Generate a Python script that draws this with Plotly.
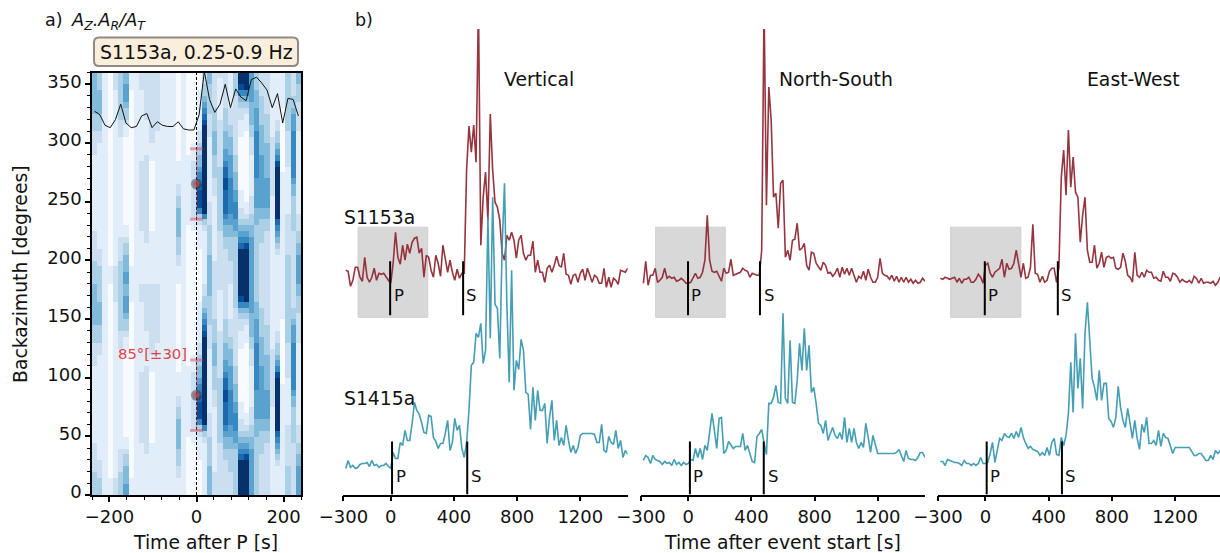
import plotly.graph_objects as go

W, H = 1220, 553
FONT = "DejaVu Sans"
MAROON = "#922b35"
TEAL = "#3b99b1"

TIME = list(range(-285, 1515, 15))

V_S1153 = [224,223,208,214,227,227,217,213,237,217,212,217,226,214,221,220,221,217,214,211,
           231,262,237,230,249,234,250,241,252,256,257,241,246,217,239,237,224,217,239,231,
           218,249,234,222,234,222,214,225,216,221,221,324,368,342,369,332,490,249,297,322,
           274,380,324,292,287,274,241,234,259,254,262,254,236,254,259,241,234,239,239,253,
           222,234,222,222,212,226,229,222,229,238,229,227,241,220,219,210,219,220,212,221,
           225,214,226,219,212,219,217,211,211,226,207,217,207,216,214,210,224,223,222,226]
V_S1415 = [26,34,27,29,26,27,30,31,31,32,28,34,29,30,27,29,29,31,28,26,
           42,36,36,52,49,64,54,54,71,92,84,80,72,62,61,79,78,57,53,46,
           51,51,61,74,44,52,76,64,69,46,37,52,84,129,132,161,157,171,131,144,
           277,156,297,190,186,136,247,311,190,112,224,104,134,125,155,144,102,100,65,107,
           74,104,84,84,91,51,77,94,54,74,49,57,49,69,54,42,49,41,47,59,
           61,61,61,61,61,60,52,52,70,44,42,58,52,50,64,46,54,37,44,40]
NS_S1153 = [211,233,209,219,219,226,212,214,217,226,216,218,216,217,213,214,216,214,211,211,
            212,216,221,216,217,222,234,279,234,223,222,223,217,213,226,221,222,235,219,220,
            221,222,226,224,223,217,221,220,219,219,244,490,289,407,374,297,301,266,311,314,
            237,244,234,254,255,271,244,246,251,229,224,242,241,231,228,224,232,229,221,222,
            218,221,226,217,227,220,226,219,226,219,212,218,216,223,214,225,217,212,212,217,
            236,221,219,218,215,219,213,218,212,217,212,217,212,215,211,214,211,212,216,213]
NS_S1415 = [34,39,37,31,39,35,34,33,30,33,31,32,29,35,30,32,29,32,30,31,
            35,34,46,37,46,35,49,44,62,81,64,46,76,77,41,44,53,49,46,48,
            48,48,61,44,49,40,33,32,58,61,65,51,40,91,91,97,109,92,91,181,
            96,91,154,92,91,114,151,124,166,124,149,102,107,91,71,69,61,74,54,61,
            67,59,56,62,55,77,52,66,52,66,52,46,52,47,71,57,42,59,51,41,
            41,41,41,41,41,41,41,42,45,39,33,44,36,35,35,34,37,42,42,37]
EW_S1153 = [216,215,217,216,215,216,217,212,216,211,215,215,217,212,212,215,220,217,211,229,
            231,221,217,222,224,226,235,217,231,225,226,231,244,232,217,231,216,217,227,270,
            221,220,212,218,212,214,223,226,226,212,227,317,344,299,364,307,337,302,297,252,
            279,297,244,232,232,249,226,231,242,227,237,238,236,237,226,225,227,241,233,219,
            217,212,242,219,217,222,217,224,222,222,216,217,214,213,223,217,217,213,221,220,
            217,212,215,213,212,214,211,218,216,211,216,211,212,212,211,213,209,212,217,217]
EW_S1415 = [33,33,29,35,34,33,32,32,31,29,34,31,31,29,31,29,31,37,31,31,
            32,41,52,32,46,56,54,61,58,57,61,56,63,57,67,57,51,46,48,45,
            44,43,39,42,39,47,39,52,56,40,39,57,49,59,81,132,82,161,106,136,
            86,161,192,151,116,107,94,124,94,111,111,76,73,67,77,108,87,74,67,86,
            69,56,74,56,45,70,62,77,51,51,54,49,64,48,61,57,56,48,41,47,
            47,47,47,47,47,47,43,39,39,41,41,38,34,34,39,35,44,41,44,44]

# picks: [P, S] upper and lower per component
PICKS_S1153 = [[-4, 458], [-2, 454], [-4, 458]]
PICKS_S1415 = [[8, 484], [10, 478], [8, 484]]
GREY_WINDOW = [[-207, 234], [-207, 234], [-220, 224]]
COMPONENTS = ["Vertical", "North-South", "East-West"]

# polarisation panel: one string per 12 s column, one digit per 5 degree row (0-180)
AZ_TIME = list(range(-234, 240, 12))
AZ_BAZ = [2.5 + 5 * r for r in range(72)]
AZ_COLUMNS = [
 "333322 222111 111111 111122 223334 444444",
 "333222 111111 111111 111111 223334 444333",
 "111111 111111 111111 111111 111111 111111",
 "111000 000000 000000 000000 000000 000000",
 "222111 111111 111111 111111 111111 111222",
 "333322 221111 111111 111111 122233 333333",
 "554443 321100 000000 000000 011233 455544",
 "111000 000000 000000 000000 000000 000111",
 "111111 111111 111111 111111 111111 111111",
 "111111 111222 222222 222111 111111 111222",
 "111111 122222 222222 222211 111122 222222",
 "111111 111000 000000 000111 222222 222222",
 "111111 111111 111111 111111 112222 222222",
 "111111 111111 111111 111111 111111 111111",
 "111111 111111 111111 111111 111111 111111",
 "111111 111111 111111 111111 111111 111111",
 "111223 334444 433221 111000 000000 000000",
 "111111 111111 111111 111111 111111 111111",
 "000000 000011 111111 111100 000000 000000",
 "000000 000112 222222 222111 000000 000000",
 "000000 111123 688876 654433 221111 111000",
 "111111 111236 999999 999999 999876 543322",
 "444443 333322 221111 111111 122223 333344",
 "222211 111111 111222 333344 443333 222222",
 "222222 222333 333333 332222 222211 111112",
 "222222 334456 777788 776554 443333 222222",
 "222233 334455 666666 555544 433222 111111",
 "333333 334556 665544 433322 222222 223333",
 "999999 765432 211100 000000 011122 346899",
 "999999 865432 110000 000000 001112 346999",
 "555555 554433 222111 111122 233444 455555",
 "333333 333344 455555 666666 665555 444333",
 "222222 233334 455555 555544 444333 332222",
 "222222 222334 455555 444444 333332 222222",
 "111111 111111 111222 222222 211111 111111",
 "111112 345679 999999 998654 332211 111111",
 "111111 111111 111111 100000 000000 111111",
 "333332 222222 111111 112222 223333 333333",
 "222222 222333 333445 666666 665554 332222",
 "555554 433222 111111 111111 112222 233344",
]
AZ_LINE = [327,324,315,313,320,333,317,313,314,323,325,313,318,315,314,314,318,312,311,311,
           324,361,337,326,333,350,330,346,339,336,354,356,351,345,330,342,317,338,337,323]
BAZ_BEST = [85, 265]
BAZ_ERR = 30
CAP_HALF = 15

cols = [c.replace(" ", "") for c in AZ_COLUMNS]
rows = [[int(col[r]) for col in cols] for r in range(36)]
Z = rows + rows

BLUES = [[0, "#f7fbff"], [0.125, "#deebf7"], [0.25, "#c6dbef"], [0.375, "#9ecae1"],
         [0.5, "#6baed6"], [0.625, "#4292c6"], [0.75, "#2171b5"], [0.875, "#08519c"], [1, "#08306b"]]

fig = go.Figure()
fig.add_trace(go.Heatmap(x=AZ_TIME, y=AZ_BAZ, z=Z, colorscale=BLUES, zmin=0, zmax=9,
                         showscale=False, xaxis="x", yaxis="y"))
fig.add_trace(go.Scatter(x=AZ_TIME, y=AZ_LINE, mode="lines", line=dict(color="#111111", width=1),
                         xaxis="x", yaxis="y"))
fig.add_trace(go.Scatter(x=[0, 0], y=[0, 360], mode="lines",
                         line=dict(color="black", width=1, dash="3px,2px"), xaxis="x", yaxis="y"))
for b in BAZ_BEST:
    fig.add_trace(go.Scatter(x=[0, 0], y=[b - BAZ_ERR, b + BAZ_ERR], mode="lines",
                             line=dict(color="rgba(220,40,60,0.45)", width=1), xaxis="x", yaxis="y"))
    for c in (b - BAZ_ERR, b + BAZ_ERR):
        fig.add_trace(go.Scatter(x=[-CAP_HALF, CAP_HALF], y=[c, c], mode="lines",
                                 line=dict(color="rgba(220,60,80,0.45)", width=3), xaxis="x", yaxis="y"))
    fig.add_trace(go.Scatter(x=[0], y=[b], mode="markers",
                             marker=dict(size=11, color="rgba(40,40,40,0.45)"), xaxis="x", yaxis="y"))
    fig.add_trace(go.Scatter(x=[0], y=[b], mode="markers",
                             marker=dict(size=6, color="rgba(225,60,80,0.6)"), xaxis="x", yaxis="y"))

UPPER = [V_S1153, NS_S1153, EW_S1153]
LOWER = [V_S1415, NS_S1415, EW_S1415]
BAR_LOW = [179, 0]
BAR_HIGH = [233, 53]
for k in range(3):
    xa, ya = f"x{k + 2}", f"y{k + 2}"
    fig.add_trace(go.Scatter(x=TIME, y=UPPER[k], mode="lines", line=dict(color=MAROON, width=1.6),
                             opacity=0.95, xaxis=xa, yaxis=ya))
    fig.add_trace(go.Scatter(x=TIME, y=LOWER[k], mode="lines", line=dict(color=TEAL, width=1.6),
                             opacity=0.95, xaxis=xa, yaxis=ya))
    for j, picks in enumerate((PICKS_S1153[k], PICKS_S1415[k])):
        for p in picks:
            fig.add_trace(go.Scatter(x=[p, p], y=[BAR_LOW[j], BAR_HIGH[j]], mode="lines",
                                     line=dict(color="black", width=2), xaxis=xa, yaxis=ya))


def fx(p):
    return p / W


def fy(p):
    return 1 - p / H


axis_common = dict(showgrid=False, zeroline=False, ticks="outside", tickwidth=1.5, ticklen=5,
                   tickcolor="black", linecolor="black", linewidth=1.5, automargin=False,
                   tickfont=dict(family=FONT, size=18, color="#111111"))
layout_axes = dict(
    xaxis=dict(domain=[fx(92), fx(301)], range=[-240, 240], tickvals=[-200, 0, 200], showline=True,
               mirror=True, anchor="y", minor=dict(dtick=40, ticks="outside", ticklen=3.5, tickwidth=1.2,
                                                   tickcolor="black"), **axis_common),
    yaxis=dict(domain=[fy(495), fy(72.5)], range=[0, 360], tickvals=list(range(0, 351, 50)), showline=True,
               mirror=True, anchor="x", ticklabelshift=-3,
               minor=dict(dtick=10, ticks="outside", ticklen=3.5, tickwidth=1.2, tickcolor="black"),
               **axis_common),
)
BX = [(343.4, 627.7, 1500), (641, 925, 1500), (938, 1220, 1484)]
for k, (a, b, r) in enumerate(BX):
    n = k + 2
    layout_axes[f"xaxis{n}"] = dict(domain=[fx(a), fx(b)], range=[-300, r], tickvals=[-300, 0, 400, 800, 1200],
                                    showline=True, anchor=f"y{n}", **axis_common)
    layout_axes[f"yaxis{n}"] = dict(domain=[fy(494.5), fy(29)], range=[0, 465], visible=False,
                                    anchor=f"x{n}", automargin=False)

shapes = []
for k, (g0, g1) in enumerate(GREY_WINDOW):
    shapes.append(dict(type="rect", xref=f"x{k + 2}", yref=f"y{k + 2}", x0=g0, x1=g1, y0=177, y1=267,
                       fillcolor="#d8d8d8", line=dict(color="#cfcfcf", width=1), layer="below"))
# rounded label box
x0, x1, y0, y1, rr = fx(94), fx(298), fy(66), fy(37.5), 5
rx, ry = rr / W, rr / H
shapes.append(dict(type="path", xref="paper", yref="paper", layer="above",
                   path=(f"M{x0 + rx},{y0} L{x1 - rx},{y0} Q{x1},{y0} {x1},{y0 + ry} L{x1},{y1 - ry} "
                         f"Q{x1},{y1} {x1 - rx},{y1} L{x0 + rx},{y1} Q{x0},{y1} {x0},{y1 - ry} "
                         f"L{x0},{y0 + ry} Q{x0},{y0} {x0 + rx},{y0} Z"),
                   fillcolor="#fbeedb", line=dict(color="#8f8a84", width=2)))


def label(text, px, py, size=18.8, color="#111111", **kw):
    return dict(text=text, x=fx(px), y=fy(py), xref="paper", yref="paper", showarrow=False,
                xanchor=kw.pop("xanchor", "center"), yanchor="middle",
                font=dict(family=FONT, size=size, color=color), **kw)


annotations = [
    label("a)", 53.5, 20, 17.5),
    label("<i>A<sub>Z</sub>.A<sub>R</sub>/A<sub>T</sub></i>", 108, 21, 17.8),
    label("b)", 363.5, 20, 17.5),
    label("S1153a, 0.25-0.9 Hz", 196, 52, 18.9),
    label("Time after P [s]", 205.5, 542, 18.8),
    label("Time after event start [s]", 782, 542, 18.8),
    label("Backazimuth [degrees]", 20, 274, 18.8, textangle=-90),
    label("85°[±30]", 152, 353, 14.8, color="#e3404b"),
    label("S1153a", 379.5, 217, 18.8),
    label("S1415a", 379.5, 398, 18.8),
    label(COMPONENTS[0], 539, 80, 18.8),
    label(COMPONENTS[1], 836, 80, 18.8),
    label(COMPONENTS[2], 1133, 80, 18.8),
]
TEXT_T = [[(49, 511), (63, 537)], [(51, 509), (61, 534)], [(49, 511), (63, 534)]]
for k in range(3):
    for j, (tp, ts) in enumerate(TEXT_T[k]):
        amp = 199 if j == 0 else 18
        for t, s in ((tp, "P"), (ts, "S")):
            annotations.append(dict(text=s, x=t, y=amp, xref=f"x{k + 2}", yref=f"y{k + 2}", showarrow=False,
                                    font=dict(family=FONT, size=16.5, color="#111111")))

fig.update_layout(width=W, height=H, margin=dict(l=0, r=0, t=0, b=0), autosize=False,
                  paper_bgcolor="white", plot_bgcolor="rgba(0,0,0,0)", showlegend=False,
                  shapes=shapes, annotations=annotations, **layout_axes)
fig.write_html("out.html", config={"displayModeBar": False},
               post_script="document.body.style.margin='0';document.documentElement.style.overflow='hidden';")
